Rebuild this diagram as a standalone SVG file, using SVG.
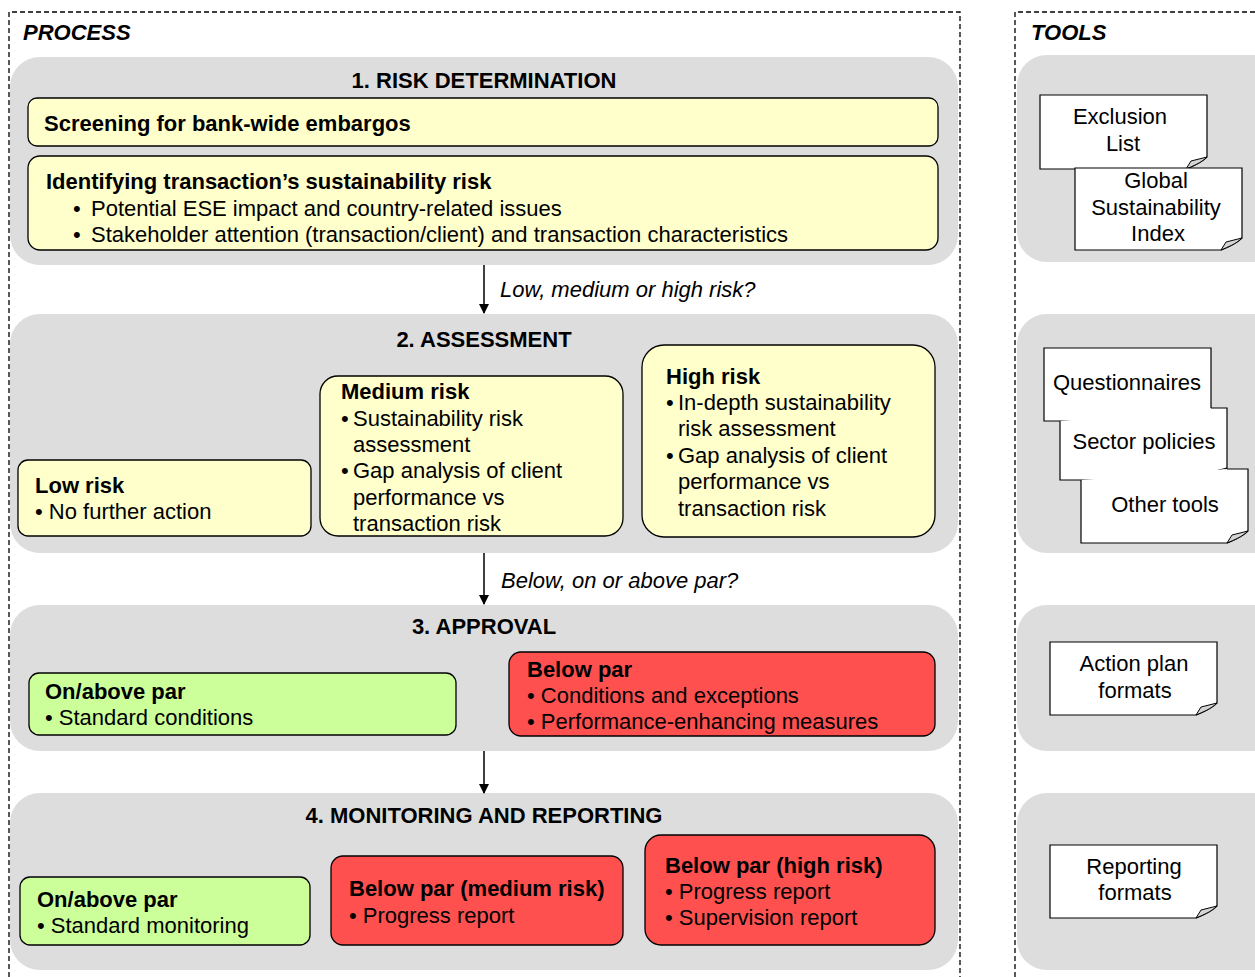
<svg xmlns="http://www.w3.org/2000/svg" width="1255" height="977" viewBox="0 0 1255 977">
<style>
text{font-family:"Liberation Sans",Arial,sans-serif;font-size:22px;fill:#000}
.b{font-weight:bold}
.hd{font-weight:bold;font-style:italic}
.it{font-style:italic}
.t{font-weight:bold;text-anchor:middle}
.c{text-anchor:middle}
.panel{fill:#DDDDDD;stroke:none}
.y{fill:#FFFFCC;stroke:#000;stroke-width:1.3}
.g{fill:#CCFF99;stroke:#000;stroke-width:1.3}
.r{fill:#FF5050;stroke:#000;stroke-width:1.3}
.dash{fill:none;stroke:#000;stroke-width:1.3;stroke-dasharray:5 3}
.doc{fill:#fff;stroke:#000;stroke-width:1.2}
.fold{fill:#D4D4D4;stroke:#000;stroke-width:1}
.conn{stroke:#000;stroke-width:1.5;fill:none}
</style>
<defs>
<marker id="ah" markerWidth="10" markerHeight="10" refX="9" refY="5" orient="auto" markerUnits="userSpaceOnUse">
<path d="M0,0 L10,5 L0,10 Z" fill="#000"/>
</marker>
<path id="fc" class="fold" d="M-21,0 L-16,-8 L0,-12 C-6,-6 -14,-3 -21,0 Z"/>
</defs>
<rect width="1255" height="977" fill="#fff"/>
<g id="frames">
<path class="dash" d="M9,977 V12 H960 V977"/>
<path class="dash" d="M1015,977 V12 H1260"/>
<text class="hd" x="23" y="40">PROCESS</text>
<text class="hd" x="1031" y="40">TOOLS</text>
</g>
<g id="panels">
<rect class="panel" x="10" y="57" width="948" height="208" rx="30"/>
<rect class="panel" x="10" y="314" width="948" height="239" rx="30"/>
<rect class="panel" x="10" y="605" width="948" height="146" rx="30"/>
<rect class="panel" x="10" y="793" width="948" height="177" rx="30"/>
<rect class="panel" x="1017" y="55" width="280" height="207" rx="30"/>
<rect class="panel" x="1017" y="314" width="280" height="239" rx="30"/>
<rect class="panel" x="1017" y="605" width="280" height="146" rx="30"/>
<rect class="panel" x="1017" y="793" width="280" height="177" rx="30"/>
<text class="t" x="484" y="88">1. RISK DETERMINATION</text>
<text class="t" x="484" y="347">2. ASSESSMENT</text>
<text class="t" x="484" y="634">3. APPROVAL</text>
<text class="t" x="484" y="823">4. MONITORING AND REPORTING</text>
</g>
<g id="connectors">
<line class="conn" x1="484" y1="265" x2="484" y2="313" marker-end="url(#ah)"/>
<line class="conn" x1="484" y1="553" x2="484" y2="604" marker-end="url(#ah)"/>
<line class="conn" x1="484" y1="751" x2="484" y2="793" marker-end="url(#ah)"/>
<text class="it" x="500" y="297">Low, medium or high risk?</text>
<text class="it" x="501" y="588">Below, on or above par?</text>
</g>
<g id="screening">
<rect class="y" x="28" y="98" width="910" height="48" rx="9"/>
<text class="b" x="44" y="131">Screening for bank-wide embargos</text>
</g>
<g id="identifying">
<rect class="y" x="28" y="156" width="910" height="94" rx="12"/>
<text class="b" x="46" y="189">Identifying transaction’s sustainability risk</text>
<text x="73" y="216">•</text><text x="91" y="216">Potential ESE impact and country-related issues</text>
<text x="73" y="242">•</text><text x="91" y="242">Stakeholder attention (transaction/client) and transaction characteristics</text>
</g>
<g id="low-risk">
<rect class="y" x="18" y="460" width="293" height="76" rx="10"/>
<text class="b" x="35" y="493">Low risk</text>
<text x="35" y="519">• No further action</text>
</g>
<g id="medium-risk">
<rect class="y" x="320" y="376" width="303" height="160" rx="18"/>
<text class="b" x="341" y="399">Medium risk</text>
<text x="341" y="426">•</text><text x="353" y="426">Sustainability risk</text>
<text x="353" y="452">assessment</text>
<text x="341" y="478">•</text><text x="353" y="478">Gap analysis of client</text>
<text x="353" y="505">performance vs</text>
<text x="353" y="531">transaction risk</text>
</g>
<g id="high-risk">
<rect class="y" x="642" y="345" width="293" height="192" rx="22"/>
<text class="b" x="666" y="384">High risk</text>
<text x="666" y="410">•</text><text x="678" y="410">In-depth sustainability</text>
<text x="678" y="436">risk assessment</text>
<text x="666" y="463">•</text><text x="678" y="463">Gap analysis of client</text>
<text x="678" y="489">performance vs</text>
<text x="678" y="516">transaction risk</text>
</g>
<g id="approval-on">
<rect class="g" x="29" y="673" width="427" height="62" rx="10"/>
<text class="b" x="45" y="699">On/above par</text>
<text x="45" y="725">• Standard conditions</text>
</g>
<g id="approval-below">
<rect class="r" x="509" y="652" width="426" height="84" rx="12"/>
<text class="b" x="527" y="677">Below par</text>
<text x="527" y="703">• Conditions and exceptions</text>
<text x="527" y="729">• Performance-enhancing measures</text>
</g>
<g id="monitor-on">
<rect class="g" x="20" y="877" width="290" height="68" rx="10"/>
<text class="b" x="37" y="907">On/above par</text>
<text x="37" y="933">• Standard monitoring</text>
</g>
<g id="monitor-medium">
<rect class="r" x="331" y="856" width="292" height="89" rx="12"/>
<text class="b" x="349" y="896">Below par (medium risk)</text>
<text x="349" y="923">• Progress report</text>
</g>
<g id="monitor-high">
<rect class="r" x="645" y="835" width="290" height="110" rx="16"/>
<text class="b" x="665" y="873">Below par (high risk)</text>
<text x="665" y="899">• Progress report</text>
<text x="665" y="925">• Supervision report</text>
</g>
<g id="tool-exclusion">
<path class="doc" d="M1040,95 H1207 V157 C1201,163 1193,166 1186,169 H1040 Z"/>
<use href="#fc" x="1207" y="169"/>
<text class="c" x="1120" y="124">Exclusion</text>
<text class="c" x="1123" y="151">List</text>
</g>
<g id="tool-gsi">
<path class="doc" d="M1075,168 H1242 V238 C1236,244 1228,247 1221,250 H1075 Z"/>
<use href="#fc" x="1242" y="250"/>
<text class="c" x="1156" y="188">Global</text>
<text class="c" x="1156" y="215">Sustainability</text>
<text class="c" x="1158" y="241">Index</text>
</g>
<g id="tool-questionnaires">
<path class="doc" d="M1044,348 H1211 V409 C1205,415 1197,418 1190,421 H1044 Z"/>
<use href="#fc" x="1211" y="421"/>
<text class="c" x="1127" y="390">Questionnaires</text>
</g>
<g id="tool-sector">
<path class="doc" d="M1060,421 V480 H1206 C1213,477 1221,474 1227,468 V408 H1211"/>
<use href="#fc" x="1227" y="480"/>
<text class="c" x="1144" y="449">Sector policies</text>
</g>
<g id="tool-other">
<path class="doc" d="M1081,480 V543 H1227 C1234,540 1242,537 1248,531 V469 H1227"/>
<use href="#fc" x="1248" y="543"/>
<text class="c" x="1165" y="512">Other tools</text>
</g>
<g id="tool-action">
<path class="doc" d="M1050,642 H1217 V703 C1211,709 1203,712 1196,715 H1050 Z"/>
<use href="#fc" x="1217" y="715"/>
<text class="c" x="1134" y="671">Action plan</text>
<text class="c" x="1135" y="698">formats</text>
</g>
<g id="tool-reporting">
<path class="doc" d="M1050,845 H1217 V906 C1211,912 1203,915 1196,918 H1050 Z"/>
<use href="#fc" x="1217" y="918"/>
<text class="c" x="1134" y="874">Reporting</text>
<text class="c" x="1135" y="900">formats</text>
</g>
</svg>
